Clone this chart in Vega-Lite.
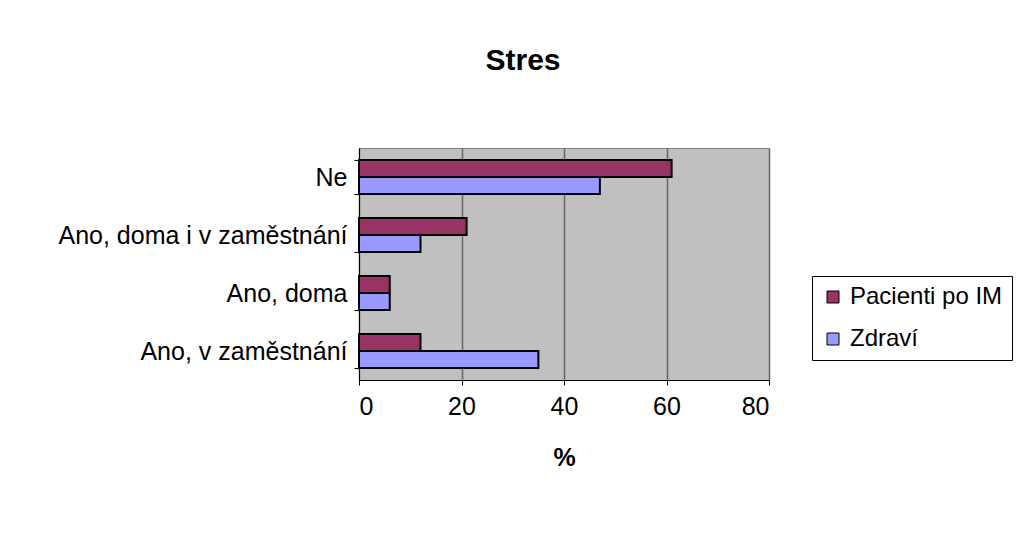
{
  "$schema": "https://vega.github.io/schema/vega-lite/v6.json",
  "autosize": {"type": "none"},
  "width": 410,
  "height": 232,
  "padding": {"left": 359, "top": 148, "right": 254, "bottom": 159},
  "background": "white",
  "title": {
    "text": "Stres",
    "font": "Liberation Sans",
    "fontSize": 30,
    "fontWeight": "bold",
    "color": "black",
    "anchor": "middle",
    "frame": "group",
    "baseline": "alphabetic",
    "offset": 36,
    "dx": -41
  },
  "data": {
    "values": [
      {"odpoved": "Ne", "skupina": "Pacienti po IM", "procento": 61},
      {"odpoved": "Ne", "skupina": "Zdraví", "procento": 47},
      {"odpoved": "Ano, doma i v zaměstnání", "skupina": "Pacienti po IM", "procento": 21},
      {"odpoved": "Ano, doma i v zaměstnání", "skupina": "Zdraví", "procento": 12},
      {"odpoved": "Ano, doma", "skupina": "Pacienti po IM", "procento": 6},
      {"odpoved": "Ano, doma", "skupina": "Zdraví", "procento": 6},
      {"odpoved": "Ano, v zaměstnání", "skupina": "Pacienti po IM", "procento": 12},
      {"odpoved": "Ano, v zaměstnání", "skupina": "Zdraví", "procento": 35}
    ]
  },
  "mark": {"type": "bar", "stroke": "black", "strokeWidth": 2},
  "encoding": {
    "y": {
      "field": "odpoved",
      "type": "nominal",
      "sort": ["Ne", "Ano, doma i v zaměstnání", "Ano, doma", "Ano, v zaměstnání"],
      "scale": {"paddingInner": 0.414, "paddingOuter": 0.207},
      "axis": {
        "title": null,
        "tickBand": "extent",
        "grid": false,
        "domainColor": "black",
        "tickColor": "black",
        "tickSize": 5,
        "labelPadding": 7,
        "labelFont": "Liberation Sans",
        "labelFontSize": 25,
        "labelColor": "black",
        "labelLimit": 400
      }
    },
    "yOffset": {
      "field": "skupina",
      "type": "nominal",
      "sort": ["Pacienti po IM", "Zdraví"]
    },
    "x": {
      "field": "procento",
      "type": "quantitative",
      "scale": {"domain": [0, 80], "nice": false},
      "axis": {
        "title": "%",
        "values": [0, 20, 40, 60, 80],
        "grid": true,
        "gridColor": "#666666",
        "gridWidth": 1.5,
        "domainColor": "black",
        "tickColor": "black",
        "tickSize": 5,
        "labelPadding": 9,
        "labelFont": "Liberation Sans",
        "labelFontSize": 25,
        "labelColor": "black",
        "titleFont": "Liberation Sans",
        "titleFontSize": 25,
        "titleFontWeight": "bold",
        "titleColor": "black",
        "titlePadding": 26
      }
    },
    "color": {
      "field": "skupina",
      "type": "nominal",
      "scale": {"domain": ["Pacienti po IM", "Zdraví"], "range": ["#993366", "#9999FF"]},
      "legend": {
        "title": null,
        "orient": "none",
        "legendX": 453,
        "legendY": 128,
        "strokeColor": "black",
        "fillColor": "white",
        "padding": 9,
        "symbolType": "square",
        "symbolSize": 144,
        "symbolStrokeColor": "black",
        "symbolStrokeWidth": 1,
        "symbolOpacity": 1,
        "labelFont": "Liberation Sans",
        "labelFontSize": 24,
        "labelColor": "black",
        "labelOffset": 5,
        "labelLimit": 300,
        "rowPadding": 18
      }
    }
  },
  "config": {
    "view": {"fill": "#C0C0C0", "stroke": "#808080", "strokeWidth": 1}
  }
}
